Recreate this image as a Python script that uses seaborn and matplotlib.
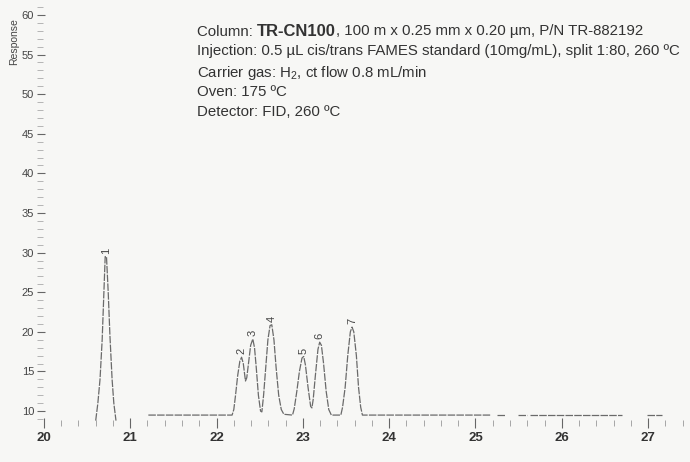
import numpy as np
import pandas as pd
import seaborn as sns
import matplotlib.pyplot as plt
from matplotlib.ticker import MultipleLocator

# trace (time in min, response), one list per unbroken segment
seg_peak1_t = [20.60, 20.625, 20.65, 20.675, 20.695, 20.71, 20.725, 20.745, 20.765, 20.79, 20.81, 20.835]
seg_peak1_y = [8.8, 11.0, 14.0, 19.0, 25.0, 29.5, 29.5, 25.0, 19.5, 14.0, 11.0, 8.8]

seg_main_t = [21.21, 22.18, 22.20, 22.22, 22.245, 22.27, 22.29, 22.31, 22.335, 22.35, 22.37, 22.395,
              22.42, 22.44, 22.46, 22.485, 22.51, 22.525, 22.545, 22.57, 22.595, 22.62, 22.64, 22.665,
              22.69, 22.72, 22.75, 22.78, 22.88, 22.90, 22.93, 22.96, 22.99, 23.01, 23.03, 23.06,
              23.09, 23.105, 23.12, 23.145, 23.175, 23.195, 23.215, 23.24, 23.27, 23.30, 23.33, 23.44,
              23.46, 23.49, 23.52, 23.55, 23.57, 23.59, 23.62, 23.645, 23.67, 23.69, 25.17]
seg_main_y = [9.5, 9.5, 10.2, 12.0, 14.5, 16.3, 16.8, 16.0, 13.8, 14.2, 16.0, 18.3,
              19.1, 18.0, 15.5, 12.0, 10.0, 9.9, 12.0, 15.5, 19.0, 20.8, 20.9, 19.0,
              15.5, 12.0, 10.2, 9.6, 9.5, 10.3, 12.5, 15.0, 16.7, 16.9, 15.8, 13.0,
              10.6, 10.4, 11.5, 14.5, 17.8, 18.7, 18.3, 16.0, 12.5, 10.2, 9.5, 9.5,
              10.5, 13.0, 17.0, 20.0, 20.6, 20.0, 17.0, 13.0, 10.5, 9.5, 9.5]

seg_tail_t = [[25.25, 25.34], [25.49, 25.60], [25.63, 26.70], [26.99, 27.16]]
seg_tail_y = [[9.5, 9.5], [9.5, 9.5], [9.5, 9.5], [9.5, 9.5]]

# peak labels
peak_ids = ["1", "2", "3", "4", "5", "6", "7"]
peak_t = [20.715, 22.29, 22.42, 22.64, 23.01, 23.195, 23.57]
peak_y = [29.5, 16.8, 19.1, 20.9, 16.9, 18.7, 20.6]

x_ticks = [20, 21, 22, 23, 24, 25, 26, 27]
y_ticks = [10, 15, 20, 25, 30, 35, 40, 45, 50, 55, 60]

info_lines = [
    [("Column: ", "normal", 10.8), ("TR-CN100", "bold", 12), (", 100 m x 0.25 mm x 0.20 µm, P/N TR-882192", "normal", 10.8)],
    [("Injection: 0.5 µL cis/trans FAMES standard (10mg/mL), split 1:80, 260 ºC", "normal", 10.8)],
    [("Carrier gas: H$_2$, ct flow 0.8 mL/min", "normal", 10.8)],
    [("Oven: 175 ºC", "normal", 10.8)],
    [("Detector: FID, 260 ºC", "normal", 10.8)],
]

# long table for seaborn, one unit per segment
all_t = [seg_peak1_t, seg_main_t] + seg_tail_t
all_y = [seg_peak1_y, seg_main_y] + seg_tail_y
df = pd.concat([pd.DataFrame({"time": t, "response": y, "segment": i})
                for i, (t, y) in enumerate(zip(all_t, all_y))], ignore_index=True)

sns.set_style("white")
plt.rcParams["font.family"] = ["Liberation Sans", "DejaVu Sans"]
plt.rcParams["mathtext.fontset"] = "custom"
plt.rcParams["mathtext.rm"] = "Liberation Sans"
plt.rcParams["mathtext.it"] = "Liberation Sans:italic"

bg = "#f7f7f5"
fig = plt.figure(figsize=(6.9, 4.62), dpi=100, facecolor=bg)
W, H = 690, 462
ax = fig.add_axes([37 / W, (H - 423) / H, (690 - 37) / W, (423 - 7) / H])
ax.set_facecolor(bg)

sns.lineplot(data=df, x="time", y="response", units="segment", estimator=None,
             color="#6a6a6a", linewidth=0.9, linestyle=(0, (6, 1)), ax=ax)

for pid, t, y in zip(peak_ids, peak_t, peak_y):
    ax.annotate(pid, (t, y), xytext=(0, 2), textcoords="offset points", rotation=90,
                ha="center", va="bottom", fontsize=8, color="#444444")

ax.set_xlim(19.92, 27.485)
ax.set_ylim(8.5, 61)
ax.set_xticks(x_ticks)
ax.set_yticks(y_ticks)
ax.xaxis.set_minor_locator(MultipleLocator(0.2))
ax.yaxis.set_minor_locator(MultipleLocator(1))
ax.tick_params(which="both", bottom=True, left=True)
ax.tick_params(axis="x", which="major", direction="inout", length=7, width=0.8,
               color="#666666", labelsize=9.5, labelcolor="#333333", pad=3)
ax.tick_params(axis="x", which="minor", direction="inout", length=4, width=0.6, color="#999999")
ax.tick_params(axis="y", which="major", direction="in", length=6, width=0.8,
               color="#666666", labelsize=8, labelcolor="#444444", pad=2)
ax.tick_params(axis="y", which="minor", direction="in", length=4, width=0.6, color="#aaaaaa")
for lbl in ax.get_xticklabels():
    lbl.set_fontweight("bold")
for s in ax.spines.values():
    s.set_visible(False)
ax.set_xlabel("")
ax.set_ylabel("")

fig.text(14 / W, 1 - 42 / H, "Response", rotation=90, ha="center", va="center",
         fontsize=7.5, color="#444444")

# info block: parts of a line share one baseline, placed one after another
renderer = fig.canvas.get_renderer()
line_base = [35.5, 55.5, 76.5, 96.5, 116.5]
for parts, yy in zip(info_lines, line_base):
    x_px = 197
    for txt, wt, fs in parts:
        t = fig.text(x_px / W, 1 - yy / H, txt, ha="left", va="baseline",
                     fontsize=fs, fontweight=wt, color="#333333")
        x_px += t.get_window_extent(renderer).width

fig.savefig("out.png", dpi=100, facecolor=bg)
